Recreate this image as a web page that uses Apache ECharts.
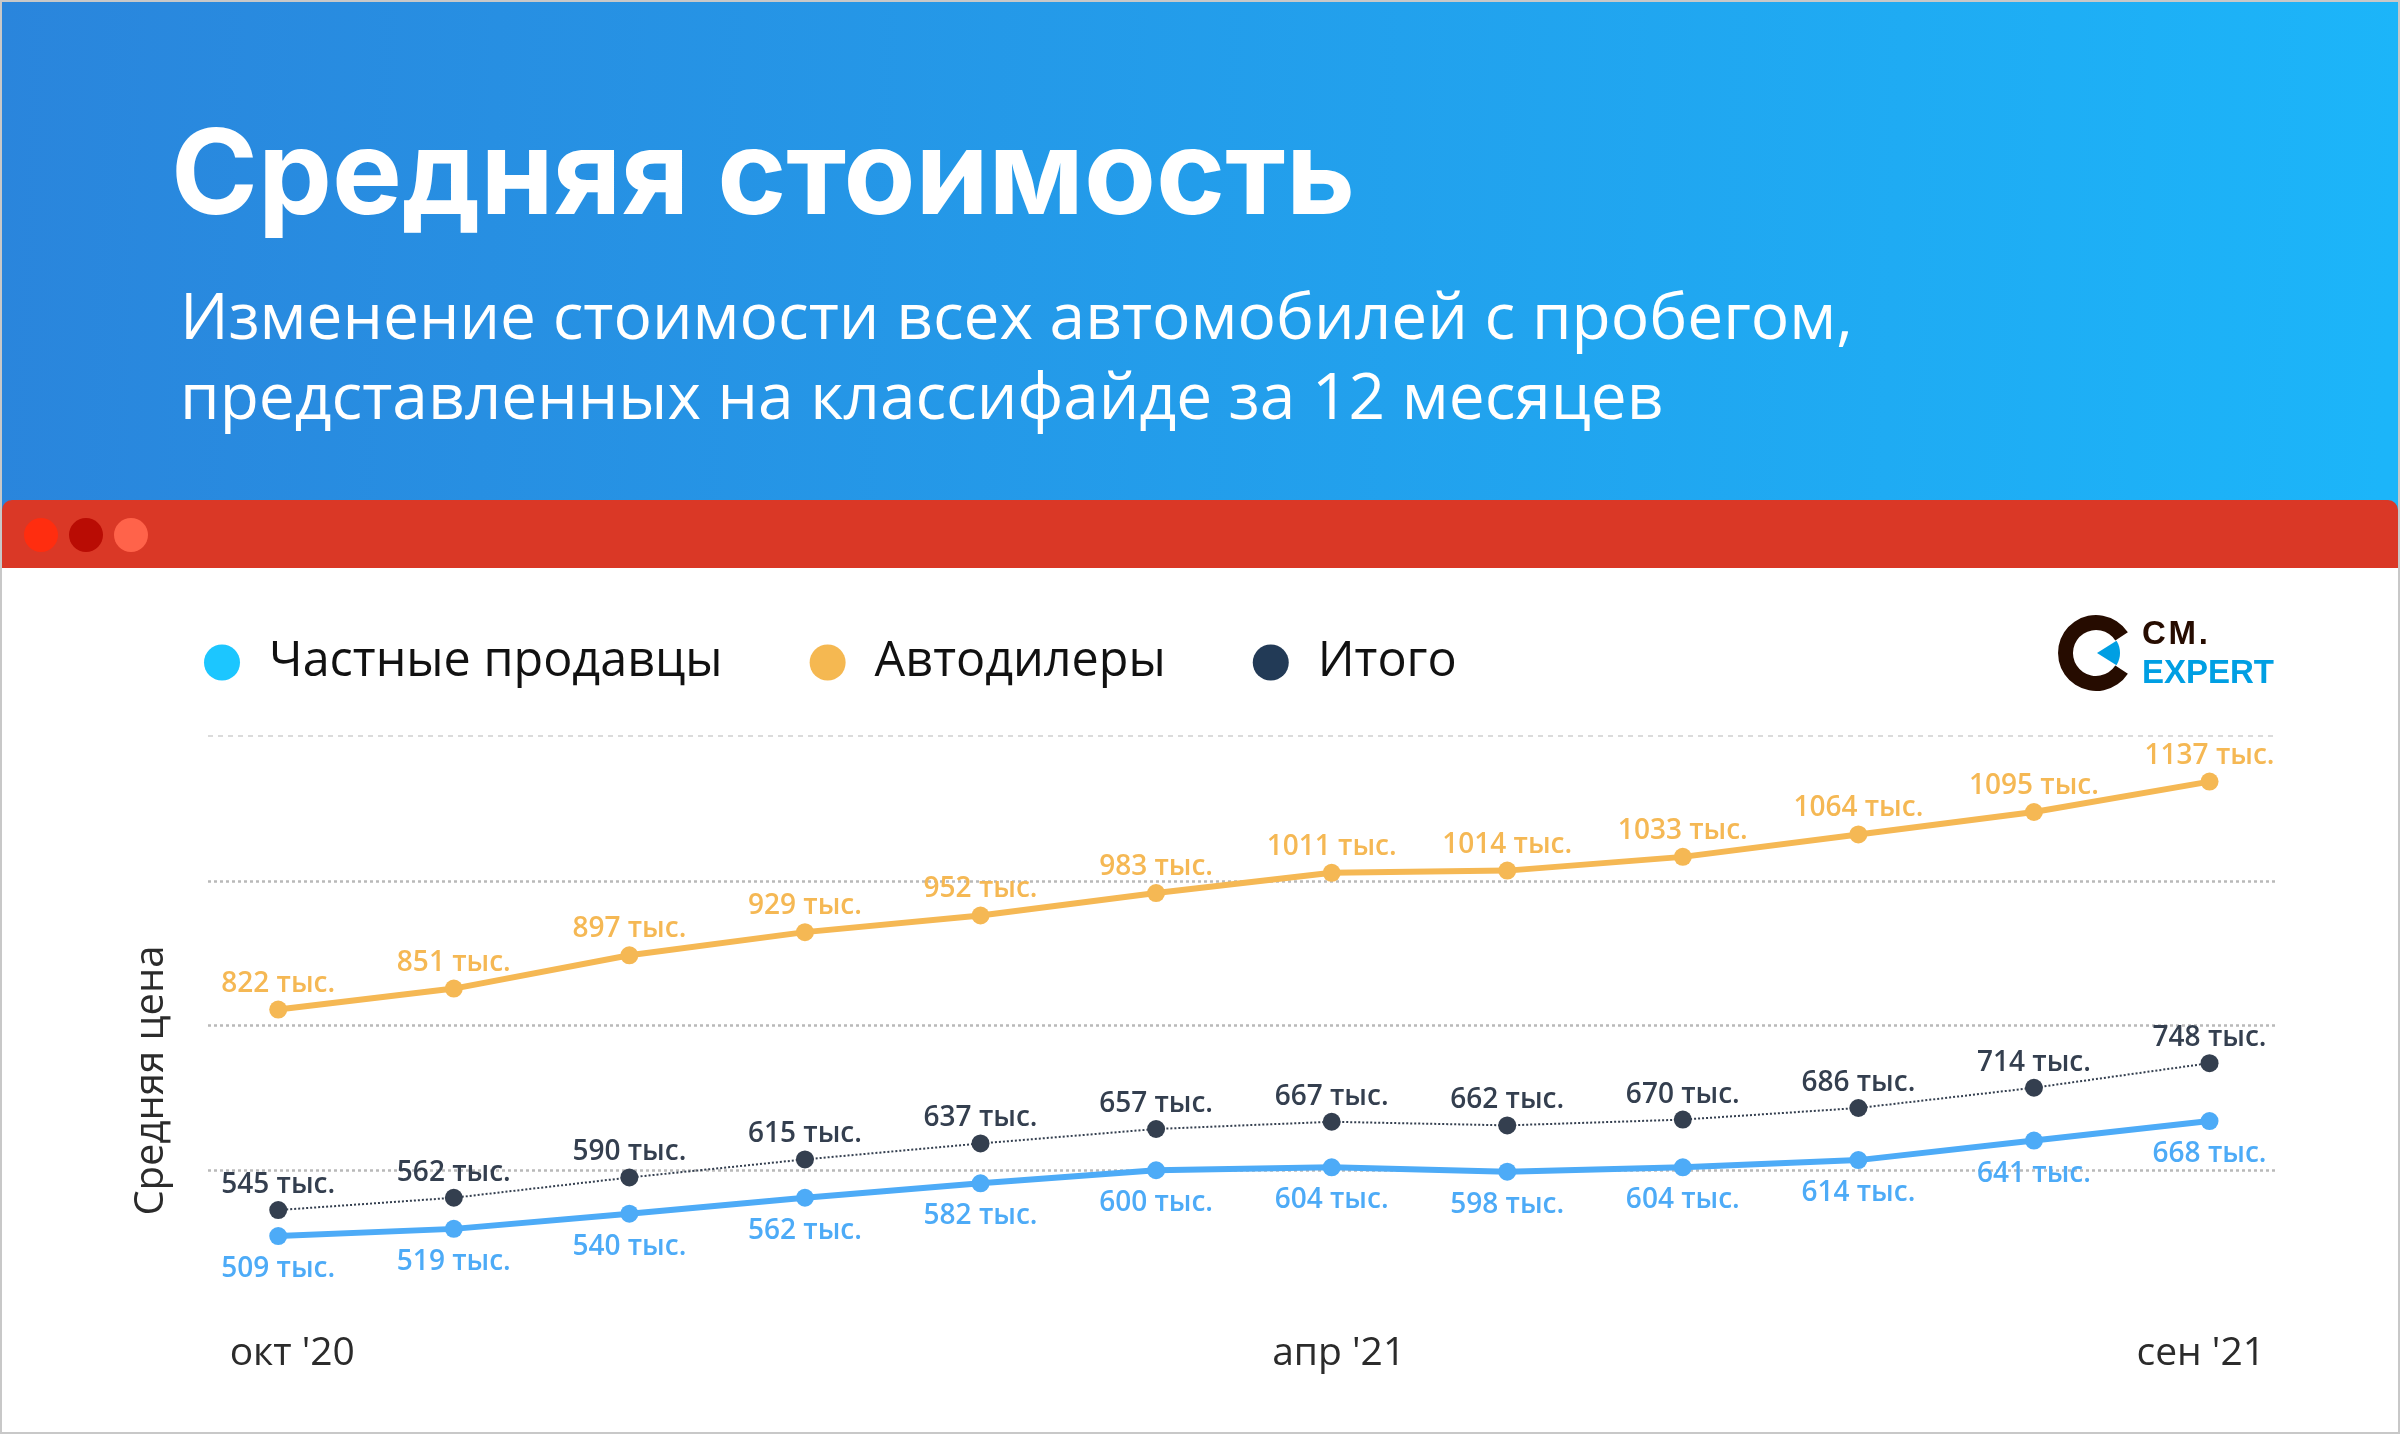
<!DOCTYPE html>
<html><head><meta charset="utf-8">
<style>html,body{margin:0;padding:0;background:#fff}#c{width:2400px;height:1434px}</style>
<script src="https://cdn.jsdelivr.net/npm/echarts@6/dist/echarts.min.js"></script>
</head><body><div id="c"></div>
<script>
const months = ["окт '20","ноя '20","дек '20","янв '21","фев '21","мар '21","апр '21","май '21","июн '21","июл '21","авг '21","сен '21"];
const privateSellers = [509,519,540,562,582,600,604,598,604,614,641,668];
const dealers = [822,851,897,929,952,983,1011,1014,1033,1064,1095,1137];
const total = [545,562,590,615,637,657,667,662,670,686,714,748];
const names = ["Частные продавцы","Автодилеры","Итого"];
const titleText = "Средняя стоимость";
const subtitleText = "Изменение стоимости всех автомобилей с пробегом,\nпредставленных на классифайде за 12 месяцев";
const yName = "Средняя цена";
const unit = "тыс.";
const FONT = '"Open Sans","Noto Sans",sans-serif';
const pairs = a => a.map((v,i)=>[i,v]);
const mk = (name,data,color,width,type,pos,dist) => ({
  name,type:'line',yAxisIndex:0,data:pairs(data),symbol:'circle',symbolSize:18,showSymbol:true,
  lineStyle:{color,width,type},itemStyle:{color},
  label:{show:true,position:pos,distance:dist,color,fontFamily:FONT,fontSize:28,fontWeight:600,
    formatter:p=>p.value[1]+' '+unit},
  animation:false,emphasis:{disabled:true}
});
const chart = echarts.init(document.getElementById('c'));
chart.setOption({
  animation:false,backgroundColor:'#fff',
  title:[
    {text:titleText,left:166,top:115,textStyle:{color:'#fff',fontFamily:'Inter,"Open Sans",sans-serif',fontWeight:700,fontSize:117.5}},
    {text:subtitleText,left:175,top:276,textStyle:{color:'#fff',fontFamily:FONT,fontWeight:400,fontSize:64,lineHeight:80}}
  ],
  legend:{left:199,top:633,itemWidth:36,itemHeight:36,itemGap:87,icon:'circle',
    selectedMode:false,
    textStyle:{color:'#111',fontFamily:FONT,fontSize:48.5,padding:[0,0,0,24]},
    data:[{name:names[0],itemStyle:{color:'#1cc6ff'}},{name:names[1],itemStyle:{color:'#f5b851'}},{name:names[2],itemStyle:{color:'#223a56'}}]},
  grid:{left:208,right:122,top:736,height:579},
  xAxis:{type:'value',min:-0.4,max:11.39,
    axisLine:{show:false},axisTick:{show:false},splitLine:{show:false},
    axisLabel:{customValues:[0.08,6.04,10.95],margin:19,color:'#2b2b2b',fontFamily:FONT,fontSize:39,
      formatter:v=>months[Math.round(v)]}},
  yAxis:[{type:'value',min:400,max:1200,interval:200,
    name:yName,nameLocation:'middle',nameGap:36,
    nameTextStyle:{color:'#2b2b2b',fontFamily:FONT,fontSize:40,padding:[0,110,0,0]},
    axisLine:{show:false},axisTick:{show:false},axisLabel:{show:false},
    splitLine:{show:true,showMinLine:false,showMaxLine:false,lineStyle:{color:'#b9b9b9',type:[3,3],width:2.5}}},
    {type:'value',min:400,max:1200,interval:800,position:'left',
    axisLine:{show:false},axisTick:{show:false},axisLabel:{show:false},
    splitLine:{show:true,showMinLine:false,lineStyle:{color:'#cfcfcf',type:[5,5],width:1.5}}}],
  series:[
    mk(names[0],privateSellers,'#4dabf7',6,'solid','bottom',10),
    mk(names[1],dealers,'#f5b854',6,'solid','top',3),
    mk(names[2],total,'#343f4f',2,[2,2],'top',2)
  ],
  graphic:[
    {type:'rect',z:-10,shape:{x:0,y:0,width:2400,height:510},
      style:{fill:new echarts.graphic.LinearGradient(0,0,1,0.2,[{offset:0,color:'#2a85dc'},{offset:1,color:'#1cb5f9'}])}},
    {type:'rect',z:-9,shape:{x:2,y:500,width:2396,height:68,r:[10,10,0,0]},style:{fill:'#da3826'}},
    {type:'circle',z:-8,shape:{cx:41,cy:535,r:17},style:{fill:'#ff2d0f'}},
    {type:'circle',z:-8,shape:{cx:86,cy:535,r:17},style:{fill:'#b90c04'}},
    {type:'circle',z:-8,shape:{cx:131,cy:535,r:17},style:{fill:'#ff634a'}},
    {type:'sector',z:5,shape:{cx:2096,cy:653,r:38,r0:23,startAngle:Math.PI*33/180,endAngle:Math.PI*2-Math.PI*33/180,clockwise:true},style:{fill:'#260c00'}},
    {type:'sector',z:5,shape:{cx:2097,cy:653,r:23,r0:0,startAngle:-Math.PI*32/180,endAngle:Math.PI*32/180,clockwise:true},style:{fill:'#009fe3'}},
    {type:'text',z:5,x:2142,y:618,style:{text:'С\u200aМ\u200a.',fill:'#260c00',font:'700 33px "Liberation Sans",sans-serif'}},
    {type:'text',z:5,x:2142,y:657,style:{text:'EXPERT',fill:'#009fe3',font:'700 33px "Liberation Sans",sans-serif'}},
    {type:'rect',z:50,silent:true,shape:{x:1,y:1,width:2398,height:1432},style:{fill:'none',stroke:'#c8c8c8',lineWidth:2}}
  ]
});
</script></body></html>
